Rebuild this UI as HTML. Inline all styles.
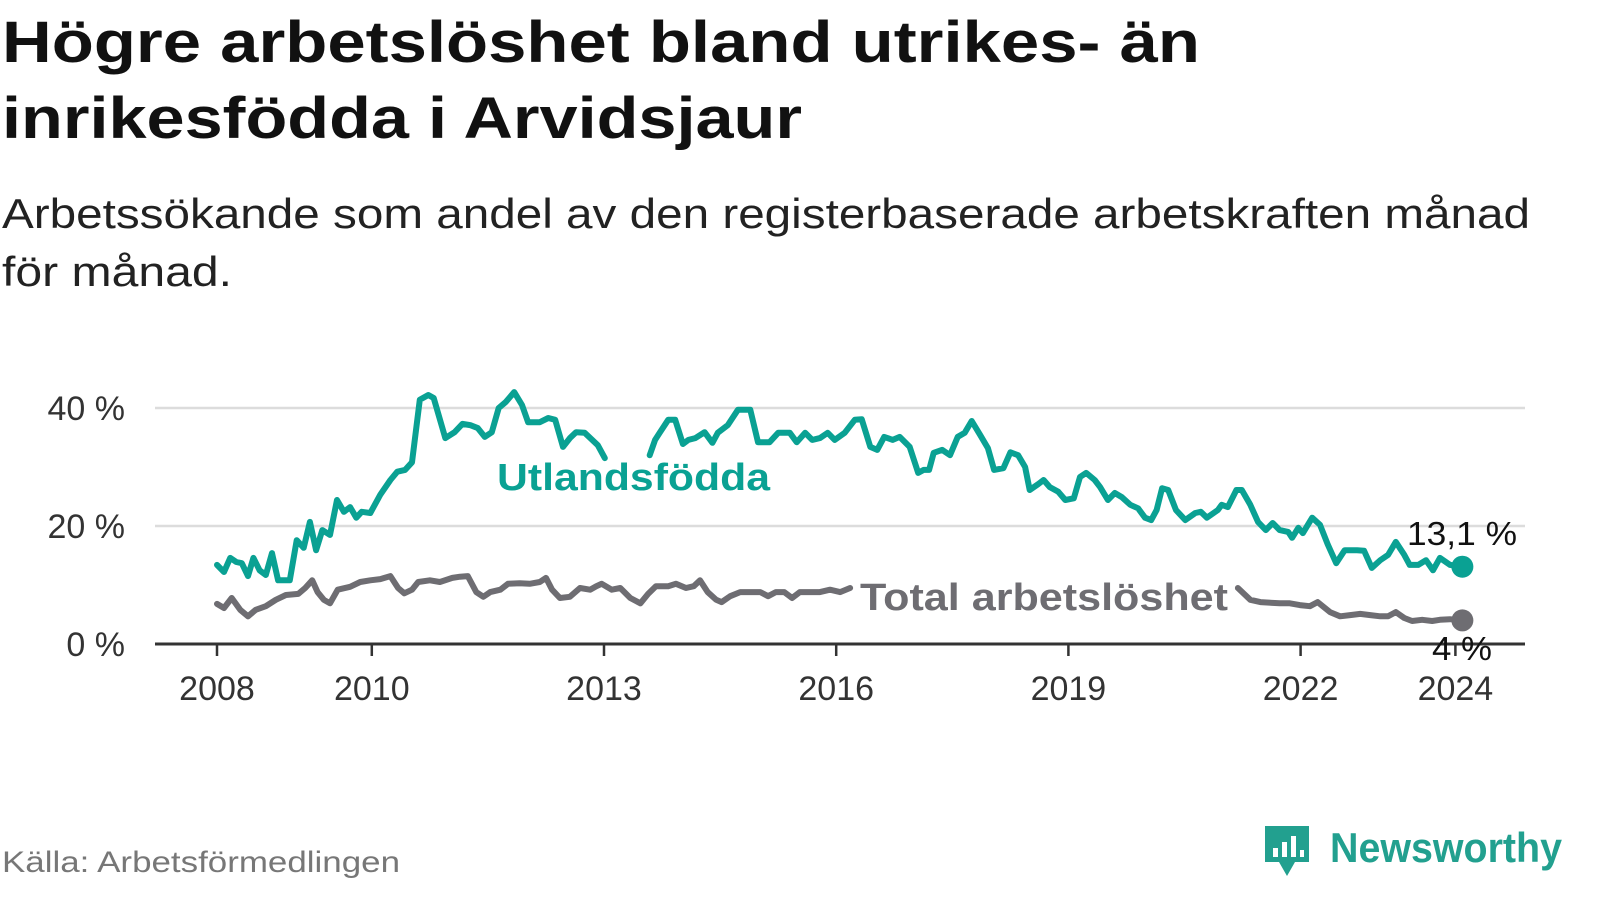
<!DOCTYPE html>
<html><head><meta charset="utf-8">
<style>
body{margin:0;background:#fff;width:1600px;height:900px;overflow:hidden;font-family:"Liberation Sans","DejaVu Sans",sans-serif;}
svg text{font-family:"Liberation Sans","DejaVu Sans",sans-serif;}
</style></head>
<body>
<svg id="chart" width="1600" height="900" viewBox="0 0 1600 900" xmlns="http://www.w3.org/2000/svg">
<text x="2" y="62" font-size="58" font-weight="bold" fill="#111" textLength="1198" lengthAdjust="spacingAndGlyphs">Högre arbetslöshet bland utrikes- än</text>
<text x="2" y="138" font-size="58" font-weight="bold" fill="#111" textLength="800" lengthAdjust="spacingAndGlyphs">inrikesfödda i Arvidsjaur</text>
<text x="2" y="228" font-size="42" fill="#222" textLength="1528" lengthAdjust="spacingAndGlyphs">Arbetssökande som andel av den registerbaserade arbetskraften månad</text>
<text x="2" y="286" font-size="42" fill="#222" textLength="230" lengthAdjust="spacingAndGlyphs">för månad.</text>
<g id="grid"></g>
<g id="yaxis"></g>
<g id="xaxis"></g>
<g id="series"></g>
<text x="497" y="490" font-size="38" font-weight="bold" fill="#0aa193" textLength="273" lengthAdjust="spacingAndGlyphs">Utlandsfödda</text>
<text x="860" y="610" font-size="38" font-weight="bold" fill="#6e6d72" textLength="368" lengthAdjust="spacingAndGlyphs">Total arbetslöshet</text>
<text x="1407" y="545" font-size="33" fill="#111" textLength="110" lengthAdjust="spacingAndGlyphs">13,1 %</text>
<text x="1432" y="660" font-size="33" fill="#111" textLength="60" lengthAdjust="spacingAndGlyphs">4 %</text>
<text x="2" y="872" font-size="30" fill="#777" textLength="398" lengthAdjust="spacingAndGlyphs">Källa: Arbetsförmedlingen</text>
<g>
<path d="M1265 826 h44 v36 h-14 l-8 14 l-8 -14 h-14 z" fill="#22a08f"/>
<rect x="1273" y="848" width="5" height="9" fill="#fff"/><rect x="1282" y="842" width="5" height="15" fill="#fff"/><rect x="1291" y="836" width="5" height="21" fill="#fff"/><rect x="1300" y="850" width="4" height="7" fill="#fff"/>
<text x="1330" y="862" font-size="42" font-weight="bold" fill="#22a08f" textLength="232" lengthAdjust="spacingAndGlyphs">Newsworthy</text>
</g>
</svg>
<script>
const yTicks=[0,20,40];
const yTickLabels=["0 %","20 %","40 %"];
const xTicks=[2008,2010,2013,2016,2019,2022,2024];
const utYears=[2008.00,2008.09,2008.17,2008.25,2008.32,2008.40,2008.47,2008.55,2008.63,2008.71,2008.79,2008.94,2009.03,2009.12,2009.20,2009.28,2009.36,2009.46,2009.55,2009.64,2009.72,2009.80,2009.87,2009.98,2010.11,2010.24,2010.33,2010.43,2010.52,2010.62,2010.73,2010.80,2010.95,2011.07,2011.17,2011.27,2011.37,2011.46,2011.55,2011.64,2011.73,2011.84,2011.94,2012.02,2012.17,2012.28,2012.37,2012.47,2012.56,2012.64,2012.75,2012.92,2013.01,2013.30,2013.59,2013.66,2013.72,2013.83,2013.92,2014.02,2014.09,2014.18,2014.30,2014.40,2014.47,2014.60,2014.73,2014.89,2014.99,2015.14,2015.25,2015.40,2015.49,2015.60,2015.69,2015.79,2015.89,2015.98,2016.11,2016.24,2016.33,2016.44,2016.53,2016.62,2016.73,2016.82,2016.95,2017.06,2017.13,2017.20,2017.26,2017.37,2017.47,2017.57,2017.66,2017.75,2017.86,2017.96,2018.04,2018.16,2018.25,2018.35,2018.44,2018.50,2018.61,2018.68,2018.76,2018.87,2018.96,2019.07,2019.15,2019.23,2019.34,2019.41,2019.51,2019.60,2019.69,2019.80,2019.90,2019.99,2020.07,2020.14,2020.21,2020.29,2020.39,2020.51,2020.64,2020.71,2020.79,2020.93,2020.98,2021.06,2021.17,2021.24,2021.35,2021.45,2021.55,2021.64,2021.73,2021.84,2021.89,2021.97,2022.03,2022.15,2022.25,2022.35,2022.46,2022.57,2022.73,2022.82,2022.92,2023.03,2023.13,2023.23,2023.34,2023.41,2023.52,2023.62,2023.71,2023.80,2023.93,2024.09];
const utValues=[13.4,12.2,14.6,13.9,13.7,11.5,14.6,12.5,11.7,15.4,10.8,10.8,17.6,16.3,20.7,15.9,19.3,18.5,24.4,22.4,23.2,21.4,22.4,22.2,25.3,27.8,29.2,29.5,30.8,41.4,42.2,41.7,34.9,35.9,37.3,37.1,36.6,35.1,35.9,40.0,41.0,42.7,40.5,37.6,37.6,38.3,38.0,33.4,34.9,35.9,35.8,33.7,31.5,null,32.0,34.6,35.8,38.0,38.0,33.9,34.6,34.9,35.9,34.1,35.8,37.1,39.7,39.7,34.2,34.2,35.8,35.8,34.2,35.8,34.6,34.9,35.8,34.6,35.8,38.0,38.1,33.4,32.9,35.1,34.6,35.1,33.4,29.0,29.5,29.5,32.4,32.9,32.0,35.1,35.8,37.8,35.4,33.2,29.5,29.8,32.5,32.0,30.0,26.1,27.1,27.8,26.6,25.8,24.4,24.7,28.3,29.0,27.8,26.6,24.4,25.6,24.9,23.6,23.0,21.4,21.0,22.7,26.4,26.1,22.7,21.0,22.2,22.4,21.4,22.7,23.6,23.2,26.1,26.1,23.6,20.7,19.3,20.5,19.3,19.0,18.0,19.7,18.8,21.4,20.2,16.9,13.7,15.9,15.9,15.8,12.9,14.2,15.1,17.3,15.1,13.4,13.4,14.2,12.5,14.6,13.4,13.1];
const totYears=[2008.00,2008.09,2008.19,2008.30,2008.40,2008.50,2008.63,2008.76,2008.89,2009.05,2009.14,2009.23,2009.30,2009.38,2009.46,2009.56,2009.72,2009.85,2009.98,2010.11,2010.24,2010.34,2010.42,2010.52,2010.60,2010.75,2010.88,2011.04,2011.14,2011.24,2011.35,2011.44,2011.53,2011.66,2011.76,2011.91,2012.04,2012.17,2012.25,2012.33,2012.43,2012.56,2012.69,2012.82,2012.90,2012.97,2013.10,2013.21,2013.34,2013.47,2013.57,2013.67,2013.83,2013.93,2014.06,2014.16,2014.24,2014.34,2014.45,2014.52,2014.63,2014.76,2014.91,2015.02,2015.12,2015.22,2015.33,2015.43,2015.53,2015.66,2015.79,2015.92,2016.05,2016.18,2016.60,2021.19,2021.35,2021.48,2021.73,2021.86,2021.99,2022.12,2022.22,2022.38,2022.51,2022.64,2022.77,2022.90,2023.03,2023.13,2023.23,2023.34,2023.44,2023.57,2023.70,2023.80,2023.93,2024.09];
const totValues=[6.8,6.1,7.8,5.8,4.7,5.8,6.4,7.5,8.3,8.5,9.5,10.8,8.8,7.5,6.9,9.2,9.7,10.5,10.8,11.0,11.5,9.5,8.6,9.2,10.5,10.8,10.5,11.2,11.4,11.5,8.8,8.0,8.8,9.2,10.2,10.3,10.2,10.5,11.2,9.2,7.8,8.0,9.5,9.2,9.8,10.2,9.2,9.5,7.8,6.9,8.5,9.8,9.8,10.2,9.5,9.8,10.8,8.8,7.5,7.1,8.1,8.8,8.8,8.8,8.1,8.8,8.8,7.8,8.8,8.8,8.8,9.2,8.8,9.5,null,9.5,7.5,7.1,6.9,6.9,6.6,6.4,7.1,5.4,4.7,4.9,5.1,4.9,4.7,4.7,5.4,4.4,3.9,4.1,3.9,4.1,4.2,4.0];

const NS='http://www.w3.org/2000/svg';
const X0=155,X1=1525;
function xs(t){return 217+(t-2008)*77.4;}
function ys(v){return 644-v*5.9;}
const grid=document.getElementById('grid'),ya=document.getElementById('yaxis'),xa=document.getElementById('xaxis'),ser=document.getElementById('series');
yTicks.forEach((v,i)=>{
  if(v!==0){const l=document.createElementNS(NS,'line');
  
  
  l.setAttribute('x1',X0);l.setAttribute('x2',X1);l.setAttribute('y1',ys(v));l.setAttribute('y2',ys(v));
  l.setAttribute('stroke','#dcdcdc');l.setAttribute('stroke-width','2.5');grid.appendChild(l);}
  const t=document.createElementNS(NS,'text');
  
  
  t.setAttribute('x',125);t.setAttribute('y',ys(v)+12);t.setAttribute('text-anchor','end');
  t.setAttribute('font-size','34');t.setAttribute('fill','#333');t.textContent=yTickLabels[i];ya.appendChild(t);
});
const base=document.createElementNS(NS,'line');


base.setAttribute('x1',X0);base.setAttribute('x2',X1);base.setAttribute('y1',644);base.setAttribute('y2',644);
base.setAttribute('stroke','#333');base.setAttribute('stroke-width','3');xa.appendChild(base);
xTicks.forEach(y=>{
  const l=document.createElementNS(NS,'line');
  
  
  l.setAttribute('x1',xs(y));l.setAttribute('x2',xs(y));l.setAttribute('y1',644);l.setAttribute('y2',656);
  l.setAttribute('stroke','#333');l.setAttribute('stroke-width','2.5');xa.appendChild(l);
  const t=document.createElementNS(NS,'text');
  
  
  t.setAttribute('x',xs(y));t.setAttribute('y',700);t.setAttribute('text-anchor','middle');
  t.setAttribute('font-size','34');t.setAttribute('fill','#333');t.textContent=y;xa.appendChild(t);
});
function draw(years,vals,color,name){
  const len=Math.min(years.length,vals.length);
  let d='',pen=false,last=-1;
  for(let i=0;i<len;i++){const v=vals[i],t=years[i];
    if(v===null||v===undefined){pen=false;continue;}
    d+=(pen?'L':'M')+xs(t).toFixed(1)+' '+ys(v).toFixed(1)+' ';pen=true;last=i;}
  const p=document.createElementNS(NS,'path');
  
  
  p.setAttribute('d',d);p.setAttribute('fill','none');p.setAttribute('stroke',color);
  p.setAttribute('stroke-width','6');p.setAttribute('stroke-linejoin','round');p.setAttribute('stroke-linecap','round');
  ser.appendChild(p);
  const c=document.createElementNS(NS,'circle');
  
  
  c.setAttribute('cx',xs(years[last]));c.setAttribute('cy',ys(vals[last]));c.setAttribute('r','11');c.setAttribute('fill',color);
  ser.appendChild(c);
}
draw(totYears,totValues,'#6e6d72','total');
draw(utYears,utValues,'#0aa193','utlandsfodda');
</script>
</body></html>
